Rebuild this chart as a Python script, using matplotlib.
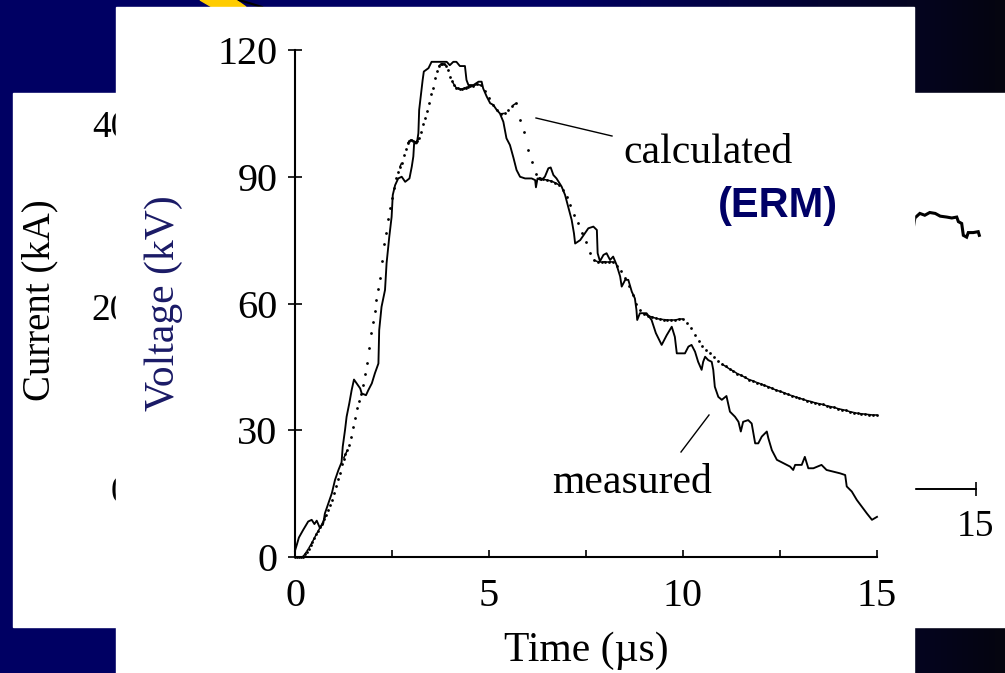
import numpy as np
import matplotlib
matplotlib.use("Agg")
import matplotlib.pyplot as plt
from matplotlib.patches import Rectangle, Polygon
from matplotlib.collections import LineCollection

plt.rcParams['font.family'] = ['Liberation Serif', 'DejaVu Serif']

# ---------------- data ----------------
# measured voltage (kV) vs time (us)
meas_t = [0.00, 0.05, 0.10, 0.21, 0.34, 0.43, 0.50, 0.56, 0.64, 0.73,
          0.77, 0.86, 0.95, 1.03, 1.12, 1.20, 1.23, 1.29, 1.33, 1.40,
          1.46, 1.52, 1.59, 1.68, 1.72, 1.83, 1.89, 1.98, 2.06, 2.15,
          2.17, 2.23, 2.32, 2.36, 2.43, 2.49, 2.52, 2.58, 2.66, 2.75,
          2.84, 2.95, 3.01, 3.05, 3.07, 3.14, 3.18, 3.20, 3.25, 3.29,
          3.32, 3.44, 3.52, 3.91, 3.99, 4.08, 4.16, 4.25, 4.38, 4.42,
          4.47, 4.60, 4.73, 4.81, 4.85, 4.94, 5.03, 5.11, 5.20, 5.28,
          5.37, 5.45, 5.54, 5.63, 5.71, 5.80, 5.93, 6.10, 6.19, 6.21,
          6.25, 6.35, 6.44, 6.53, 6.59, 6.66, 6.74, 6.87, 6.96, 7.04,
          7.13, 7.19, 7.22, 7.35, 7.47, 7.56, 7.69, 7.78, 7.80, 7.86,
          7.95, 8.03, 8.12, 8.20, 8.29, 8.38, 8.42, 8.51, 8.59, 8.68,
          8.76, 8.80, 8.82, 8.89, 9.06, 9.19, 9.30, 9.45, 9.58, 9.71,
          9.79, 9.84, 10.05, 10.14, 10.22, 10.31, 10.39, 10.48, 10.52, 10.57,
          10.65, 10.74, 10.78, 10.82, 10.91, 11.00, 11.12, 11.21, 11.34, 11.43,
          11.49, 11.55, 11.68, 11.77, 11.86, 11.94, 12.03, 12.16, 12.20, 12.29,
          12.42, 12.59, 12.76, 12.84, 12.89, 13.06, 13.14, 13.23, 13.36, 13.57,
          13.70, 13.87, 14.05, 14.18, 14.22, 14.35, 14.48, 14.61, 14.74, 14.87,
          15.00]
meas_v = [1.5, 3.0, 4.6, 6.4, 8.4, 8.8, 7.8, 8.6, 6.9, 8.0,
          10.3, 12.7, 15.1, 18.2, 20.6, 22.4, 26.1, 30.1, 33.2, 36.4,
          39.5, 42.0, 41.1, 39.9, 38.7, 38.3, 39.5, 41.1, 43.5, 45.8,
          53.7, 59.2, 63.2, 69.5, 75.8, 80.5, 85.7, 88.0, 89.6, 90.0,
          88.8, 89.6, 92.4, 94.8, 97.9, 97.9, 100.3, 105.8, 109.7, 112.9,
          114.9, 115.7, 117.2, 117.2, 116.4, 117.2, 117.2, 116.2, 116.2, 112.9,
          111.7, 111.7, 112.5, 112.5, 110.9, 109.0, 107.4, 107.0, 105.8, 105.0,
          103.0, 99.1, 97.5, 94.5, 91.6, 90.0, 89.6, 89.6, 89.2, 87.5,
          89.6, 89.2, 90.0, 92.0, 92.2, 90.4, 89.6, 87.7, 85.7, 82.9,
          79.8, 76.6, 74.2, 75.0, 76.6, 77.8, 78.2, 77.4, 71.9, 70.0,
          71.5, 71.9, 70.3, 71.1, 69.1, 66.4, 64.0, 65.6, 65.6, 62.8,
          61.2, 58.5, 56.1, 57.7, 57.7, 56.1, 53.0, 50.2, 52.5, 54.5,
          52.1, 48.2, 48.2, 49.8, 50.2, 48.6, 46.2, 44.3, 46.2, 47.4,
          46.6, 46.2, 44.3, 40.3, 37.9, 37.2, 38.1, 34.4, 33.2, 32.0,
          29.7, 32.0, 32.4, 31.6, 26.9, 26.9, 28.5, 29.7, 28.1, 25.3,
          23.0, 22.2, 21.4, 20.6, 21.8, 21.8, 23.7, 21.0, 21.0, 21.8,
          20.6, 20.2, 19.8, 19.4, 16.7, 15.5, 13.5, 11.9, 10.3, 8.8,
          9.5]

# calculated (ERM) voltage, sampled every 0.05 us from 0 to 4.45 us
calc_v_fine = [0, 0, 0, 0, 0.1, 0.6, 1.3, 2.0, 2.8, 3.6,
               4.5, 5.4, 6.2, 7.0, 7.9, 8.9, 9.9, 11.1, 12.4, 13.6,
               15.2, 16.8, 18.4, 20.0, 22.0, 23.3, 24.3, 25.3, 26.5, 28.5,
               30.8, 32.8, 35.2, 36.9, 38.5, 40.6, 43.2, 45.8, 49.5, 52.9,
               55.7, 58.2, 60.8, 63.5, 66.0, 70.0, 74.0, 76.6, 80.0, 82.5,
               85.0, 87.3, 89.6, 91.2, 92.3, 93.3, 95.1, 96.6, 97.9, 98.5,
               98.8, 98.5, 98.2, 98.5, 99.2, 100.6, 102.5, 104.0, 105.5, 107.5,
               109.5, 111.0, 113.3, 115.0, 116.1, 116.6, 116.8, 116.8, 116.3, 115.2,
               113.7, 112.6, 111.8, 111.1, 110.9, 110.8, 110.8, 110.9, 111.1, 111.3]
# calculated (ERM) voltage, sampled every 0.1 us from 4.5 to 15 us
calc_v_coarse = [111.4, 111.5, 111.9, 111.6, 110.2,
                 108.6, 107.1, 105.9, 104.9, 105.0, 105.7, 106.8, 107.4, 103.5, 100.5,
                 96.3, 93.4, 90.6, 89.8, 89.4, 89.2, 89.0, 88.6, 88.1, 86.8,
                 85.1, 83.2, 81.0, 79.0, 76.6, 74.6, 72.0, 70.3, 69.9, 69.8,
                 69.9, 69.9, 69.8, 68.9, 67.6, 66.1, 64.2, 62.0, 60.0, 58.4,
                 57.6, 57.1, 56.8, 56.5, 56.3, 56.2, 56.1, 56.1, 56.1, 56.3,
                 56.3, 55.5, 54.1, 52.5, 51.1, 50.0, 49.1, 48.2, 47.3, 46.5,
                 45.7, 45.1, 44.5, 44.0, 43.4, 43.0, 42.5, 42.0, 41.7, 41.3,
                 41.0, 40.6, 40.3, 39.9, 39.5, 39.2, 38.9, 38.5, 38.2, 37.9,
                 37.6, 37.3, 37.0, 36.8, 36.5, 36.3, 36.1, 35.8, 35.6, 35.4,
                 35.1, 34.9, 34.7, 34.4, 34.2, 34.0, 33.9, 33.8, 33.7, 33.6,
                 33.6]
calc_t = np.r_[np.arange(len(calc_v_fine)) * 0.05,
               4.5 + np.arange(len(calc_v_coarse)) * 0.1]
calc_v = np.r_[calc_v_fine, calc_v_coarse]

# visible fragment of the background current chart (kA vs us)
cur_t = [13.86, 13.89, 13.98, 14.07, 14.16, 14.26, 14.35, 14.47, 14.56, 14.65,
         14.68, 14.74, 14.77, 14.83, 14.86, 14.95, 15.04, 15.06]
cur_v = [28.6, 29.7, 30.2, 30.0, 30.3, 30.2, 29.9, 29.8, 29.7, 29.8,
         29.3, 29.1, 27.8, 27.6, 28.1, 28.1, 28.2, 27.8]

x_ticks = [0, 2.5, 5, 7.5, 10, 12.5, 15]
x_ticklabels = ['0', '', '5', '', '10', '', '15']
y_ticks = [0, 30, 60, 90, 120]
back_y_ticks = [0, 20, 40]

# ---------------- figure ----------------
W, H = 1005, 673
fig = plt.figure(figsize=(W / 100, H / 100), dpi=100)


def px_axes(z):
    a = fig.add_axes([0, 0, 1, 1], zorder=z)
    a.set_xlim(0, W)
    a.set_ylim(H, 0)
    a.axis('off')
    a.patch.set_alpha(0)
    return a


# slide background
bg = px_axes(0)
f = np.linspace(0, 1, 400)
blue = np.where(f < 0.55, 0.39, 0.39 - (f - 0.55) / 0.45 * 0.33)
grad = np.zeros((2, 400, 3))
grad[:, :, 2] = blue
grad[:, :, 0] = np.where(f < 0.55, 0, 0.02 * (f - 0.55) / 0.45)
grad[:, :, 1] = grad[:, :, 0]
bg.imshow(grad, extent=[0, W, H, 0], aspect='auto', zorder=0)
bg.add_patch(Polygon([(200, 0), (236, 0), (246, 7), (212, 7)],
                     closed=True, color='#ffcc00', zorder=1))
bg.plot([239, 262], [0, 7], color='black', lw=1.6, zorder=2)
bg.add_patch(Rectangle((13, 93), W - 13, 627 - 93, color='white', zorder=3))
bg.text(40, 300, 'Current (kA)', rotation=90, ha='center', va='center',
        fontsize=28, color='black', zorder=4)

# background chart (current)
back = fig.add_axes([150 / W, 1 - 489 / H, (976 - 150) / W, (489 - 124) / H],
                    zorder=1)
back.patch.set_alpha(0)
back.plot(cur_t, cur_v, color='black', lw=2.2, clip_on=False,
          solid_joinstyle='miter')
back.set_xlim(0, 15)
back.set_ylim(0, 40)
for s in ['top', 'right']:
    back.spines[s].set_visible(False)
for s in ['left', 'bottom']:
    back.spines[s].set_linewidth(1.4)
back.set_xticks([0, 5, 10, 15])
back.set_yticks(back_y_ticks)
back.tick_params(axis='both', direction='inout', length=10, width=1.2,
                 labelsize=27)
back.tick_params(axis='x', pad=10)
back.tick_params(axis='y', pad=10)

# front white panel
fp = px_axes(2)
fp.add_patch(Rectangle((116, 7), 914 - 116, H - 7, color='white'))

# main chart
ax = fig.add_axes([295 / W, 1 - 557 / H, 582 / W, 507 / H], zorder=3)
ax.patch.set_alpha(0)
ax.set_xlim(0, 15)
ax.set_ylim(0, 120)
ax.plot(meas_t, meas_v, color='black', lw=1.35, clip_on=False)

# calculated curve: samples drawn as dots, merged into a line where dense
ax.plot(calc_t, calc_v, ls='none', marker='o', ms=2.0, mew=0, color='black',
        clip_on=False)
pts = ax.transData.transform(np.c_[calc_t, calc_v])
d = np.hypot(*np.diff(pts, axis=0).T)
data_pts = np.c_[calc_t, calc_v]
segs = [data_pts[i:i + 2] for i in range(len(d)) if d[i] < 4.8]
ax.add_collection(LineCollection(segs, colors='black', linewidths=1.1))

for s in ['top', 'right']:
    ax.spines[s].set_visible(False)
for s in ['left', 'bottom']:
    ax.spines[s].set_linewidth(1.5)
ax.set_xticks(x_ticks)
ax.set_xticklabels(x_ticklabels)
ax.set_yticks(y_ticks)
ax.tick_params(axis='x', direction='in', length=5, width=1.2, pad=15,
               labelsize=29)
ax.tick_params(axis='y', direction='inout', length=9.4, width=1.2, pad=8,
               labelsize=29)

# overlay texts
ov = px_axes(10)
ov.text(164, 303, 'Voltage (kV)', rotation=90, ha='center', va='center',
        fontsize=30, color='#1a1a66')
ov.text(586, 661, 'Time (µs)', ha='center', va='baseline', fontsize=30,
        color='black')
ov.text(623, 163, 'calculated', ha='left', va='baseline', fontsize=30,
        color='black')
ov.text(718, 206, '(ERM)', ha='left', va='center', fontsize=30,
        fontweight='bold', family='Liberation Sans', color='#000066')
ov.text(552, 493, 'measured', ha='left', va='baseline', fontsize=30,
        color='black')
ov.plot([536, 612], [118, 136], color='black', lw=1.0)
ov.plot([681, 709], [452, 415], color='black', lw=1.0)

fig.savefig('out.png', dpi=100)
